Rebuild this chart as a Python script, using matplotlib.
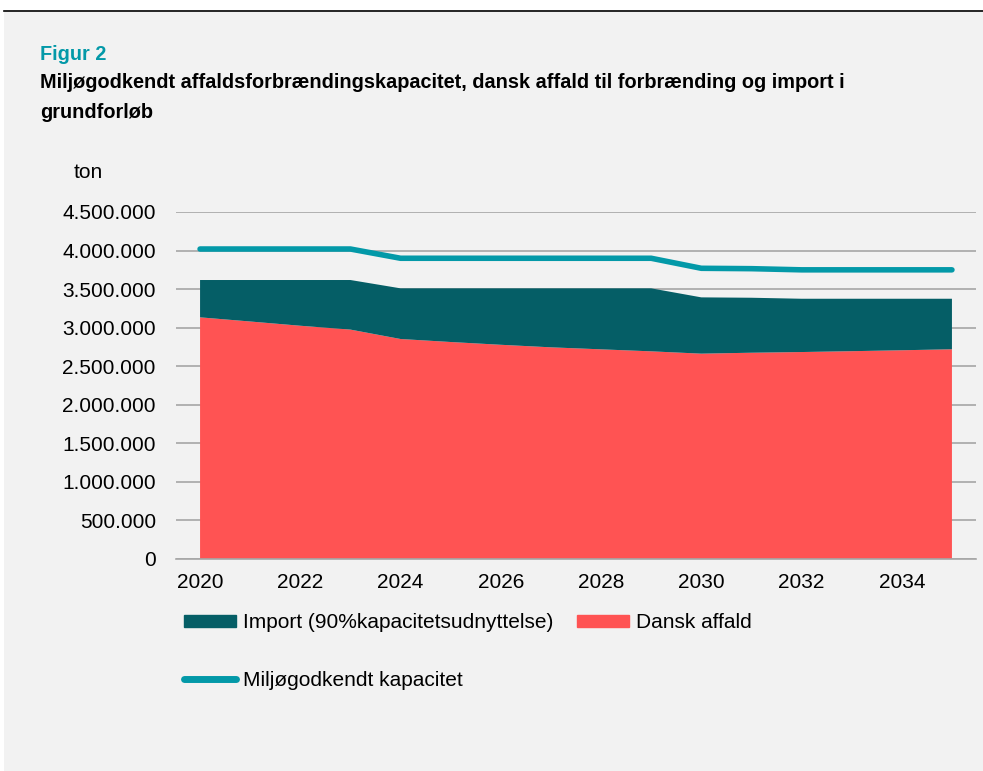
import matplotlib.pyplot as plt
from matplotlib.patches import Rectangle, Patch
from matplotlib.lines import Line2D
from matplotlib.ticker import FuncFormatter

years = list(range(2020, 2036))
dansk_affald = [3134000, 3080000, 3025000, 2975000, 2853000, 2814000, 2778000, 2745000,
                2719000, 2693000, 2663000, 2675000, 2684000, 2695000, 2707000, 2720000]
import_ton = [484000, 538000, 593000, 643000, 657000, 696000, 732000, 765000,
              791000, 817000, 730000, 713000, 691000, 680000, 668000, 655000]
kapacitet = [4020000, 4020000, 4020000, 4020000, 3900000, 3900000, 3900000, 3900000,
             3900000, 3900000, 3770000, 3765000, 3750000, 3750000, 3750000, 3750000]
xticks = list(range(2020, 2036, 2))

RED = '#ff5353'
DARK = '#055e66'
TEAL = '#0399a8'
BG = '#f2f2f2'

plt.rcParams['font.family'] = ['Liberation Sans', 'DejaVu Sans']

fig = plt.figure(figsize=(9.83, 7.71), dpi=100)
fig.patch.set_facecolor('white')
fig.patches.append(Rectangle((4 / 983, 0), 1, (771 - 12) / 771, transform=fig.transFigure,
                             facecolor=BG, edgecolor='none', zorder=-10))
fig.add_artist(Line2D([4 / 983, 1], [1 - 11 / 771, 1 - 11 / 771], color='black', lw=1.2))

fig.text(40 / 983, 1 - 54 / 771, 'Figur 2', color=TEAL, fontsize=14.3, fontweight='bold', va='center')
fig.text(40 / 983, 1 - 82 / 771,
         'Miljøgodkendt affaldsforbrændingskapacitet, dansk affald til forbrænding og import i',
         fontsize=14.3, fontweight='bold', va='center')
fig.text(40 / 983, 1 - 112 / 771, 'grundforløb', fontsize=14.3, fontweight='bold', va='center')
fig.text(88 / 983, 1 - 173 / 771, 'ton', fontsize=15, ha='center', va='center')

ax = fig.add_axes([176 / 983, 1 - 559 / 771, 800 / 983, 347 / 771])
ax.set_facecolor(BG)
ax.stackplot(years, dansk_affald, import_ton, colors=[RED, DARK], zorder=2)
ax.plot(years, kapacitet, color=TEAL, lw=4, solid_capstyle='round', solid_joinstyle='round', zorder=3)

ax.set_xlim(2019.52, 2035.48)
ax.set_ylim(0, 4500000)
ax.set_yticks(range(0, 4500001, 500000))
ax.set_xticks(xticks)
ax.yaxis.set_major_formatter(FuncFormatter(lambda v, p: f'{int(v):,}'.replace(',', '.')))
ax.grid(axis='y', color='#a6a6a6', lw=1.2, zorder=1)
ax.tick_params(length=0, labelsize=15)
ax.tick_params(axis='y', pad=14.5)
ax.tick_params(axis='x', pad=10)
for s in ['top', 'right', 'left']:
    ax.spines[s].set_visible(False)
ax.spines['bottom'].set_color('#a6a6a6')
ax.spines['bottom'].set_linewidth(1.2)

h1 = [Patch(color=DARK, label='Import (90%kapacitetsudnyttelse)'),
      Patch(color=RED, label='Dansk affald')]
leg1 = fig.legend(handles=h1, loc='center left', bbox_to_anchor=(184 / 983, 1 - 623 / 771),
                  ncol=2, frameon=False, fontsize=15, handlelength=2.5, handleheight=0.55,
                  handletextpad=0.33, columnspacing=1.15, borderaxespad=0, borderpad=0)
h2 = [Line2D([0], [0], color=TEAL, lw=5, solid_capstyle='round', label='Miljøgodkendt kapacitet')]
leg2 = fig.legend(handles=h2, loc='center left', bbox_to_anchor=(184 / 983, 1 - 681 / 771),
                  frameon=False, fontsize=15, handlelength=2.5, handletextpad=0.33,
                  borderaxespad=0, borderpad=0)

fig.savefig('out.png', dpi=100, facecolor=fig.get_facecolor())
